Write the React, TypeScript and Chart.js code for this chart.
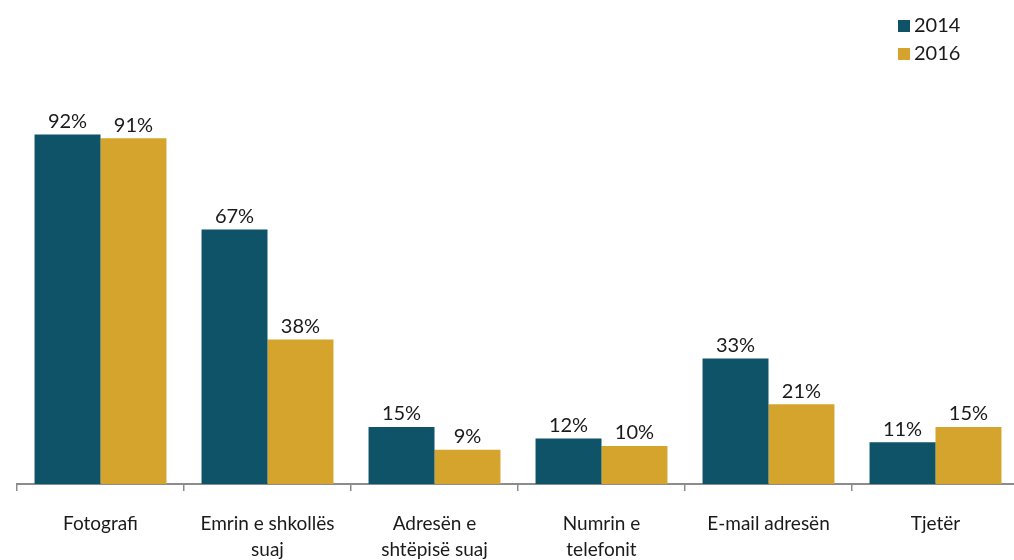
import React, { useEffect, useRef } from "react";
import { Chart, registerables } from "chart.js";

Chart.register(...registerables);

const categories: (string | string[])[] = [
  "Fotografi",
  ["Emrin e shkollës", "suaj"],
  ["Adresën e", "shtëpisë suaj"],
  ["Numrin e", "telefonit"],
  "E-mail adresën",
  "Tjetër",
];
const series2014 = [92, 67, 15, 12, 33, 11];
const series2016 = [91, 38, 9, 10, 21, 15];
const seriesLabels = ["2014", "2016"];
const colors = ["#0F5368", "#D5A42D"];

const FONT = "Lato, 'Open Sans', sans-serif";

const valueLabels = {
  id: "valueLabels",
  afterDatasetsDraw(chart: any) {
    const ctx = chart.ctx;
    ctx.save();
    ctx.font = `20px ${FONT}`;
    ctx.fillStyle = "#1a1a1a";
    ctx.textAlign = "center";
    ctx.textBaseline = "bottom";
    chart.data.datasets.forEach((ds: any, di: number) => {
      const meta = chart.getDatasetMeta(di);
      meta.data.forEach((bar: any, i: number) => {
        ctx.fillText(`${ds.data[i]}%`, bar.x, bar.y - 3);
      });
    });
    ctx.restore();
  },
};

const customLegend = {
  id: "customLegend",
  afterDraw(chart: any) {
    const ctx = chart.ctx;
    ctx.save();
    ctx.font = `20px ${FONT}`;
    ctx.textAlign = "left";
    ctx.textBaseline = "middle";
    chart.data.datasets.forEach((ds: any, di: number) => {
      const y = 26 + di * 28;
      ctx.fillStyle = ds.backgroundColor;
      ctx.fillRect(898, y - 6, 12, 12);
      ctx.fillStyle = "#1a1a1a";
      ctx.fillText(ds.label, 914, y);
    });
    ctx.restore();
  },
};

export default function App() {
  const ref = useRef<HTMLCanvasElement>(null);
  useEffect(() => {
    if (!ref.current) return;
    const chart = new Chart(ref.current, {
      type: "bar",
      data: {
        labels: categories,
        datasets: [
          { label: seriesLabels[0], data: series2014, backgroundColor: colors[0] },
          { label: seriesLabels[1], data: series2016, backgroundColor: colors[1] },
        ],
      },
      options: {
        animation: false,
        responsive: false,
        maintainAspectRatio: false,
        layout: { padding: { left: 17, right: 3, top: 104, bottom: 0 } },
        datasets: { bar: { categoryPercentage: 0.79, barPercentage: 1.0 } },
        plugins: {
          legend: { display: false },
          tooltip: { enabled: false },
        },
        scales: {
          x: {
            offset: true,
            afterFit: (scale: any) => {
              scale.height = 76;
            },
            grid: {
              offset: true,
              drawOnChartArea: false,
              drawTicks: true,
              tickLength: 7,
              color: "#8c8c8c",
              lineWidth: 1.5,
            },
            border: { display: true, color: "#8c8c8c", width: 2 },
            ticks: {
              color: "#1a1a1a",
              font: { family: FONT, size: 19, lineHeight: 1.35 },
              padding: 20,
              maxRotation: 0,
              autoSkip: false,
            },
          },
          y: {
            display: false,
            min: 0,
            max: 100,
          },
        },
      },
      plugins: [valueLabels, customLegend],
    });
    return () => chart.destroy();
  }, []);
  return (
    <div
      style={{
        position: "fixed",
        left: 0,
        top: 0,
        width: 1014,
        height: 560,
        overflow: "hidden",
        background: "#fff",
      }}
    >
      <canvas ref={ref} width={1022} height={560} style={{ display: "block" }} />
    </div>
  );
}
